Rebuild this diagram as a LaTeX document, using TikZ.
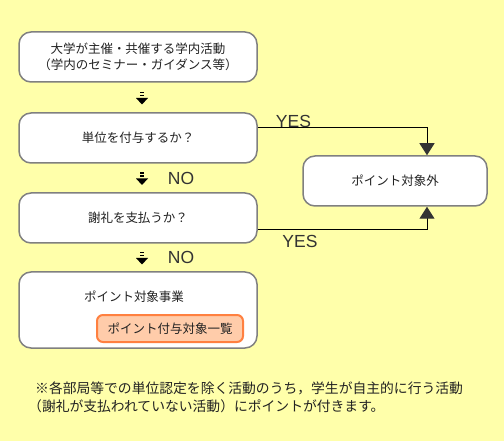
\documentclass[tikz,border=0pt]{standalone}
\usepackage{fontspec}
\newfontfamily\jp{Noto Sans CJK JP}
\newfontfamily\lat{Liberation Sans}
\usetikzlibrary{arrows.meta}
\definecolor{bg}{RGB}{255,255,170}
\definecolor{boxline}{RGB}{128,128,128}
\definecolor{txt}{RGB}{34,34,34}
\definecolor{lbl}{RGB}{51,51,51}
\definecolor{orline}{RGB}{255,128,64}
\definecolor{orfill}{RGB}{255,204,170}
\tikzset{
  stepbox/.style={draw=boxline, line width=1.5pt, fill=white, rounded corners=12pt,
    minimum width=238pt, minimum height=50pt, inner sep=0pt, align=center,
    font=\jp\fontsize{12.5}{16}\selectfont, text=txt},
  listbox/.style={draw=orline, line width=2pt, fill=orfill, rounded corners=6pt,
    minimum width=146pt, minimum height=27pt, inner sep=0pt,
    font=\jp\fontsize{12.5}{15}\selectfont, text=txt},
  plain/.style={inner sep=0pt, font=\jp\fontsize{12.5}{15}\selectfont, text=txt},
  yn/.style={inner sep=0pt, font=\lat\fontsize{17.5}{18}\selectfont, text=lbl},
  note/.style={inner sep=0pt, anchor=west, font=\jp\fontsize{13.8}{16}\selectfont, text=txt},
  yesline/.style={draw=black, line width=1pt,
    -{Triangle[length=12pt,width=15pt,fill=lbl,color=lbl]}},
  dnicon/.pic={
    \fill[black] (-2,-6) rectangle (2,-4.5);
    \fill[black] (-2,-3) rectangle (2,-1.5);
    \fill[black] (-6,0) -- (6,0) -- (0,6.5) -- cycle;
  }
}
\begin{document}
\begin{tikzpicture}[x=1pt,y=-1pt]
\fill[bg] (0,0) rectangle (504,441);
\useasboundingbox (0,0) rectangle (504,441);

\node[stepbox] (b1) at (138,57) {大学が主催・共催する学内活動\\（学内のセミナー・ガイダンス等）};
\node[stepbox] (b2) at (138,138) {単位を付与するか？};
\node[stepbox] (b3) at (138,218) {謝礼を支払うか？};
\node[stepbox, minimum height=76pt] (b4) at (138,310) {};
\node[plain] (b4t) at (134,297) {ポイント対象事業};
\node[listbox] (list) at (170,328.5) {ポイント付与対象一覧};
\node[stepbox, minimum width=184pt] (rb) at (395,181) {ポイント対象外};

\pic at (142,98) {dnicon};
\pic at (142,178.5) {dnicon};
\pic at (142,258) {dnicon};

\node[yn] (no1) at (181,178) {NO};
\node[yn] (no2) at (181,257) {NO};

\draw[yesline] ([yshift=10pt]b2.east) -| ([xshift=32pt]rb.north);
\draw[yesline] ([yshift=-12pt]b3.east) -| ([xshift=32pt]rb.south);
\node[yn] (yes1) at (293.5,121) {YES};
\node[yn] (yes2) at (300,241) {YES};

\node[note] (n1) at (35,388) {※各部局等での単位認定を除く活動のうち，学生が自主的に行う活動};
\node[note] (n2) at (28,406) {（謝礼が支払われていない活動）にポイントが付きます。};
\end{tikzpicture}
\end{document}
